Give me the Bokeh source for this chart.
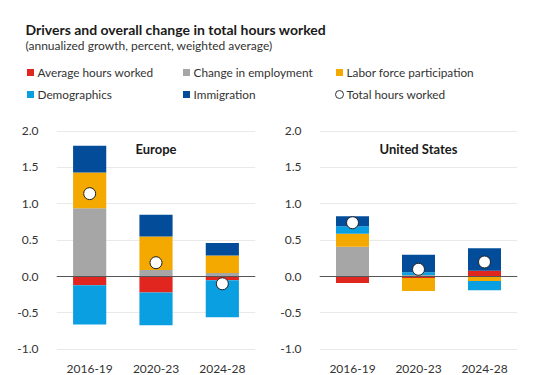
from bokeh.plotting import figure
from bokeh.models import Range1d, Span, FixedTicker, ColumnDataSource
from bokeh.layouts import column, row
from bokeh.core.properties import value
from bokeh.embed import file_html
from bokeh.resources import INLINE

# ---------------- data ----------------
categories = ["2016-19", "2020-23", "2024-28"]

series_names = ["Average hours worked", "Change in employment", "Labor force participation",
                "Demographics", "Immigration"]
series_colors = ["#e0261f", "#a6a6a6", "#f4a900", "#0a9fe0", "#024c99"]

europe_avg_hours = [-0.12, -0.22, -0.05]
europe_employment = [0.94, 0.09, 0.05]
europe_lfp = [0.49, 0.46, 0.24]
europe_demographics = [-0.54, -0.45, -0.51]
europe_immigration = [0.37, 0.30, 0.17]
europe_total = [1.14, 0.19, -0.10]

us_avg_hours = [-0.09, -0.02, 0.08]
us_employment = [0.41, 0.02, 0.00]
us_lfp = [0.18, -0.18, -0.06]
us_demographics = [0.10, 0.04, -0.13]
us_immigration = [0.14, 0.24, 0.31]
us_total = [0.74, 0.10, 0.20]

y_ticks = [-1.0, -0.5, 0.0, 0.5, 1.0, 1.5, 2.0]
y_tick_labels = ["-1.0", "-0.5", "0.0", "0.5", "1.0", "1.5", "2.0"]

title_text = "Drivers and overall change in total hours worked"
subtitle_text = "(annualized growth, percent, weighted average)"
total_label = "Total hours worked"

FONT = "Lato"
TXT = "#333333"

# ---------------- header ----------------
hdr = figure(width=539, height=110, x_range=Range1d(0, 539), y_range=Range1d(110, 0),
             toolbar_location=None, output_backend="svg", min_border=0)
hdr.axis.visible = False
hdr.grid.visible = False
hdr.outline_line_color = None

hdr.text(x=[25], y=[29], text=[title_text], text_font=value(FONT), text_font_size="14px",
         text_font_style="bold", text_color="#1a1a1a", text_baseline="middle", text_align="left")
hdr.text(x=[25], y=[44.5], text=[subtitle_text], text_font=value(FONT), text_font_size="12px",
         text_color=TXT, text_baseline="middle", text_align="left")

col_x = [30, 186, 339]
row_y = [72, 94]
leg_pos = [(col_x[0], row_y[0]), (col_x[1], row_y[0]), (col_x[2], row_y[0]),
           (col_x[0], row_y[1]), (col_x[1], row_y[1])]
for (lx, ly), name, colr in zip(leg_pos, series_names, series_colors):
    hdr.scatter(x=[lx], y=[ly], marker="square", size=7, fill_color=colr, line_color=None)
    hdr.text(x=[lx + 7], y=[ly], text=[name], text_font=value(FONT), text_font_size="11.8px",
             text_color=TXT, text_baseline="middle", text_align="left")
hdr.scatter(x=[col_x[2]], y=[row_y[1]], marker="circle", size=8, fill_color="white",
            line_color="#333333", line_width=1)
hdr.text(x=[col_x[2] + 7], y=[row_y[1]], text=[total_label], text_font=value(FONT),
         text_font_size="11.8px", text_color=TXT, text_baseline="middle", text_align="left")


# ---------------- panels ----------------
def panel(name, comps, totals, left_border, frame_w, right_border):
    p = figure(x_range=categories, y_range=Range1d(-1.045, 2.146),
               width=left_border + frame_w + right_border, height=265,
               min_border_left=left_border, min_border_right=right_border,
               min_border_top=10, min_border_bottom=20,
               toolbar_location=None, output_backend="svg")
    p.outline_line_color = None
    p.xgrid.grid_line_color = None
    p.ygrid.grid_line_color = "#e9e9e9"
    p.ygrid.grid_line_width = 1
    p.yaxis.ticker = FixedTicker(ticks=y_ticks)
    p.yaxis.major_label_overrides = {t: l for t, l in zip(y_ticks, y_tick_labels)}
    for ax in (p.xaxis, p.yaxis):
        ax.axis_line_color = None
        ax.major_tick_line_color = None
        ax.minor_tick_line_color = None
        ax.major_label_text_font = FONT
        ax.major_label_text_font_size = "12px"
        ax.major_label_text_color = TXT
    p.yaxis.major_label_standoff = 12
    p.xaxis.major_label_standoff = 6

    pos_base = [0.0] * len(categories)
    neg_base = [0.0] * len(categories)
    for vals, colr in zip(comps, series_colors):
        bottoms, tops = [], []
        for i, v in enumerate(vals):
            if v >= 0:
                bottoms.append(pos_base[i]); tops.append(pos_base[i] + v); pos_base[i] += v
            else:
                bottoms.append(neg_base[i]); tops.append(neg_base[i] + v); neg_base[i] += v
        src = ColumnDataSource(dict(x=categories, bottom=bottoms, top=tops))
        p.vbar(x="x", bottom="bottom", top="top", width=0.5, source=src,
               fill_color=colr, line_color=None)

    p.add_layout(Span(location=0, dimension="width", line_color="#555555", line_width=1))
    p.scatter(x=categories, y=totals, marker="circle", size=12, fill_color="white",
              line_color="#222222", line_width=1)
    p.text(x=[categories[1]], y=[1.76], text=[name], text_font=value(FONT),
           text_font_size="13px", text_font_style="bold", text_color="#1a1a1a",
           text_align="center", text_baseline="middle")
    return p


pe = panel("Europe", [europe_avg_hours, europe_employment, europe_lfp,
                      europe_demographics, europe_immigration], europe_total, 56, 199, 15)
pu = panel("United States", [us_avg_hours, us_employment, us_lfp,
                             us_demographics, us_immigration], us_total, 49, 198, 22)

layout = column(hdr, row(pe, pu, spacing=0), spacing=0)
open("out.html", "w").write(file_html(layout, INLINE))
